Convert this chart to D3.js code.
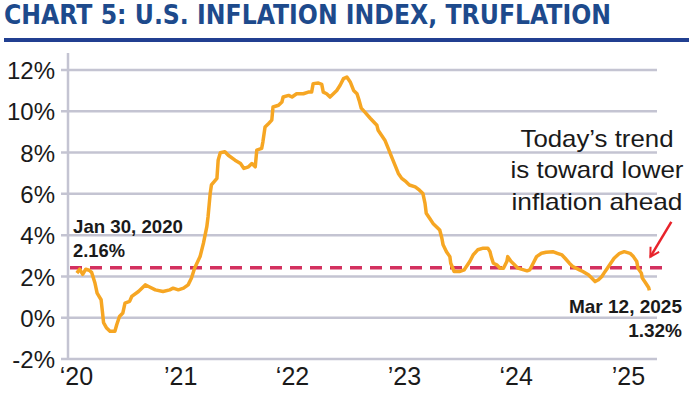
<!DOCTYPE html>
<html>
<head>
<meta charset="utf-8">
<script src="https://cdn.jsdelivr.net/npm/d3@7"></script>
<style>
  body { margin: 0; background: #fff; }
  text { font-family: "Liberation Sans", Arial, sans-serif; }
</style>
</head>
<body>
<div id="chart"></div>
<script>
// Truflation index readings
const dates = [
  "2020-01-30","2020-02-08","2020-02-18","2020-02-28","2020-03-10","2020-03-18","2020-03-29","2020-04-05",
  "2020-04-18","2020-04-23","2020-04-26","2020-05-06","2020-05-17","2020-06-02","2020-06-08","2020-06-17",
  "2020-06-28","2020-07-05","2020-07-20","2020-07-27","2020-08-18","2020-09-09","2020-09-20","2020-10-12",
  "2020-11-06","2020-11-28","2020-12-09","2020-12-26",
  "2021-01-12","2021-01-27","2021-02-07","2021-02-17","2021-03-07","2021-03-18","2021-03-29","2021-04-02",
  "2021-04-09","2021-04-13","2021-05-01","2021-05-05","2021-05-12","2021-05-27","2021-06-07","2021-06-29",
  "2021-07-17","2021-07-28","2021-08-12","2021-08-23","2021-09-03","2021-09-08","2021-09-24","2021-09-28",
  "2021-10-05","2021-10-16","2021-10-27","2021-10-31","2021-11-18","2021-11-29","2021-12-03","2021-12-21",
  "2022-01-01","2022-01-16","2022-02-07","2022-02-23","2022-03-06","2022-03-11","2022-03-28","2022-04-08",
  "2022-04-13","2022-04-24","2022-05-05","2022-05-16","2022-05-27","2022-06-07","2022-06-18","2022-06-29",
  "2022-07-10","2022-07-21","2022-08-01","2022-08-08","2022-08-15","2022-08-26","2022-09-14","2022-09-24",
  "2022-10-05","2022-10-09","2022-10-20","2022-10-31","2022-11-11","2022-11-22","2022-12-03","2022-12-14",
  "2022-12-25",
  "2023-01-08","2023-01-19","2023-02-07","2023-02-21","2023-03-04","2023-03-11","2023-03-15","2023-03-26",
  "2023-04-06","2023-04-17","2023-04-28","2023-05-05","2023-05-09","2023-05-20","2023-05-31","2023-06-03",
  "2023-06-14","2023-07-03","2023-07-17","2023-08-04","2023-08-15","2023-08-30","2023-09-17","2023-10-02",
  "2023-10-09","2023-10-13","2023-10-20","2023-10-31","2023-11-11","2023-11-22","2023-12-03","2023-12-06",
  "2023-12-17","2023-12-28",
  "2024-01-08","2024-01-27","2024-02-07","2024-02-16","2024-02-27","2024-03-09","2024-03-25","2024-04-09",
  "2024-05-01","2024-05-16","2024-05-31","2024-06-10","2024-06-24","2024-07-05","2024-07-16","2024-07-27",
  "2024-08-07","2024-08-25","2024-09-05","2024-09-16","2024-09-27","2024-10-08","2024-10-15","2024-10-26",
  "2024-11-06","2024-11-17","2024-12-05","2024-12-20",
  "2025-01-08","2025-01-19","2025-01-30","2025-02-03","2025-02-14","2025-02-17","2025-02-28","2025-03-10",
  "2025-03-12"
];
const values = [
  2.16,2.35,2.1,2.35,2.3,2.2,1.68,1.19,
  0.87,0.2,-0.24,-0.5,-0.66,-0.66,-0.34,0.06,
  0.23,0.71,0.79,1.03,1.27,1.59,1.51,1.35,
  1.27,1.35,1.43,1.35,
  1.43,1.59,1.92,2.4,2.96,3.61,4.41,4.89,
  6.02,6.43,6.75,7.63,7.99,8.04,7.87,7.63,
  7.47,7.23,7.31,7.47,7.31,8.12,8.2,8.52,
  9.24,9.4,9.57,10.21,10.29,10.45,10.69,10.77,
  10.69,10.85,10.85,10.93,10.93,11.34,11.37,11.3,
  10.93,10.85,10.69,10.85,11.01,11.26,11.58,11.66,
  11.42,11.01,10.85,10.53,10.15,9.97,9.65,9.49,
  9.32,9.08,8.84,8.6,8.2,7.79,7.39,6.99,
  6.75,
  6.59,6.43,6.34,6.18,6.02,5.54,5.06,4.82,
  4.57,4.41,4.25,3.85,3.53,3.2,2.96,2.64,
  2.24,2.24,2.32,2.72,3.04,3.29,3.37,3.37,
  3.2,2.96,2.64,2.56,2.4,2.4,2.72,2.96,
  2.72,2.56,
  2.4,2.32,2.27,2.32,2.64,2.96,3.12,3.17,
  3.2,3.12,3.04,2.88,2.64,2.48,2.4,2.32,
  2.24,2.08,1.92,1.75,1.84,2.0,2.16,2.4,
  2.64,2.88,3.12,3.2,
  3.12,2.96,2.72,2.4,2.16,1.92,1.68,1.45,
  1.32
];
const trendLevel = 2.42;           // dashed reference line
const yTicks = [-2, 0, 2, 4, 6, 8, 10, 12];
const yearTicks = ["2020-01-01","2021-01-01","2022-01-01","2023-01-01","2024-01-01","2025-01-01"];
const yearLabels = ["\u201820", "\u201921", "\u201822", "\u201923", "\u201824", "\u201925"];

const width = 689, height = 397;
const parse = d3.utcParse("%Y-%m-%d");
const data = dates.map((d, i) => ({ date: parse(d), value: values[i] }));

const svg = d3.select("#chart").append("svg")
  .attr("width", width)
  .attr("height", height);

// Title + rule
svg.append("text")
  .attr("x", 4).attr("y", 23.5)
  .attr("textLength", 607).attr("lengthAdjust", "spacingAndGlyphs")
  .style("font-family", "'Liberation Sans Narrow', 'DejaVu Sans Condensed', 'Liberation Sans', sans-serif")
  .style("font-weight", "bold").style("font-size", "26px")
  .attr("fill", "#1d4a8c")
  .text("CHART 5: U.S. INFLATION INDEX, TRUFLATION");

svg.append("rect")
  .attr("x", 4).attr("y", 38).attr("width", width - 4).attr("height", 4)
  .attr("fill", "#213f91");

// Scales
const x = d3.scaleUtc()
  .domain([parse("2020-01-01"), parse("2025-04-06")])
  .range([68, 657]);
const y = d3.scaleLinear()
  .domain([-2, 12])
  .range([359, 70]);

const gridColor = "#c4c4d2";

// Gridlines (bottom one doubles as x axis)
svg.append("g")
  .selectAll("line")
  .data(yTicks)
  .join("line")
  .attr("x1", 61).attr("x2", x.range()[1])
  .attr("y1", d => y(d)).attr("y2", d => y(d))
  .attr("stroke", gridColor).attr("stroke-width", 2.5);

// Vertical axis line
svg.append("line")
  .attr("x1", x.range()[0]).attr("x2", x.range()[0])
  .attr("y1", 53).attr("y2", y(-2) + 1)
  .attr("stroke", gridColor).attr("stroke-width", 2.5);

// Y labels
const yAxis = svg.append("g")
  .attr("transform", "translate(55,0)")
  .call(d3.axisLeft(y).tickValues(yTicks).tickSize(0).tickPadding(0).tickFormat(d => d + "%"));
yAxis.select(".domain").remove();
yAxis.selectAll("text")
  .style("font-size", "24px").attr("fill", "#1a1a1a").attr("dy", "0.36em");

// X labels
const xAxis = svg.append("g")
  .attr("transform", `translate(0,${y(-2)})`)
  .call(d3.axisBottom(x).tickValues(yearTicks.map(parse)).tickSize(0)
    .tickFormat((d, i) => yearLabels[i]));
xAxis.select(".domain").remove();
xAxis.selectAll("text")
  .style("font-size", "25px").attr("fill", "#1a1a1a")
  .attr("y", 26).attr("dy", 0)
  .attr("dx", (d, i) => i === 0 ? 8 : 0);

// Dashed reference line
svg.append("line")
  .attr("x1", 70).attr("x2", 665)
  .attr("y1", y(trendLevel)).attr("y2", y(trendLevel))
  .attr("stroke", "#d3305f").attr("stroke-width", 3.5)
  .attr("stroke-dasharray", "12,8");

// Index line
svg.append("path")
  .datum(data)
  .attr("fill", "none")
  .attr("stroke", "#f6a623")
  .attr("stroke-width", 3.5)
  .attr("stroke-linejoin", "round")
  .attr("d", d3.line()
    .x(d => x(d.date))
    .y(d => y(d.value)));

// Annotations
const bold = "font-weight:bold;font-size:19px;fill:#1a1a1a";
svg.append("text").attr("x", 73).attr("y", 233).attr("style", bold)
  .attr("textLength", 110).attr("lengthAdjust", "spacingAndGlyphs").text("Jan 30, 2020");
svg.append("text").attr("x", 73).attr("y", 256.5).attr("style", bold)
  .attr("textLength", 52).attr("lengthAdjust", "spacingAndGlyphs").text("2.16%");
svg.append("text").attr("x", 682).attr("y", 312.5).attr("text-anchor", "end").attr("style", bold)
  .text("Mar 12, 2025");
svg.append("text").attr("x", 682).attr("y", 336.5).attr("text-anchor", "end").attr("style", bold)
  .text("1.32%");

const note = ["Today\u2019s trend", "is toward lower", "inflation ahead"];
const noteWidths = [153, 173, 171];
svg.append("g").selectAll("text")
  .data(note)
  .join("text")
  .attr("x", 597)
  .attr("y", (d, i) => 146.5 + i * 31.8)
  .attr("text-anchor", "middle")
  .attr("textLength", (d, i) => noteWidths[i])
  .attr("lengthAdjust", "spacingAndGlyphs")
  .style("font-size", "24px").attr("fill", "#1a1a1a")
  .text(d => d);

// Red arrow pointing at the latest reading
svg.append("defs").append("marker")
  .attr("id", "head")
  .attr("viewBox", "0 0 10 10")
  .attr("refX", 8).attr("refY", 5)
  .attr("markerWidth", 5).attr("markerHeight", 5)
  .attr("orient", "auto")
  .append("path")
  .attr("d", "M1,1 L8,5 L1,9")
  .attr("fill", "none").attr("stroke", "#e8232b").attr("stroke-width", 1.6);

const tipX = x(parse("2025-03-12")), tipY = y(2.9);
svg.append("line")
  .attr("x1", tipX + 22).attr("y1", tipY - 36)
  .attr("x2", tipX + 1).attr("y2", tipY - 1)
  .attr("stroke", "#e8232b").attr("stroke-width", 2.5)
  .attr("marker-end", "url(#head)");
</script>
</body>
</html>
